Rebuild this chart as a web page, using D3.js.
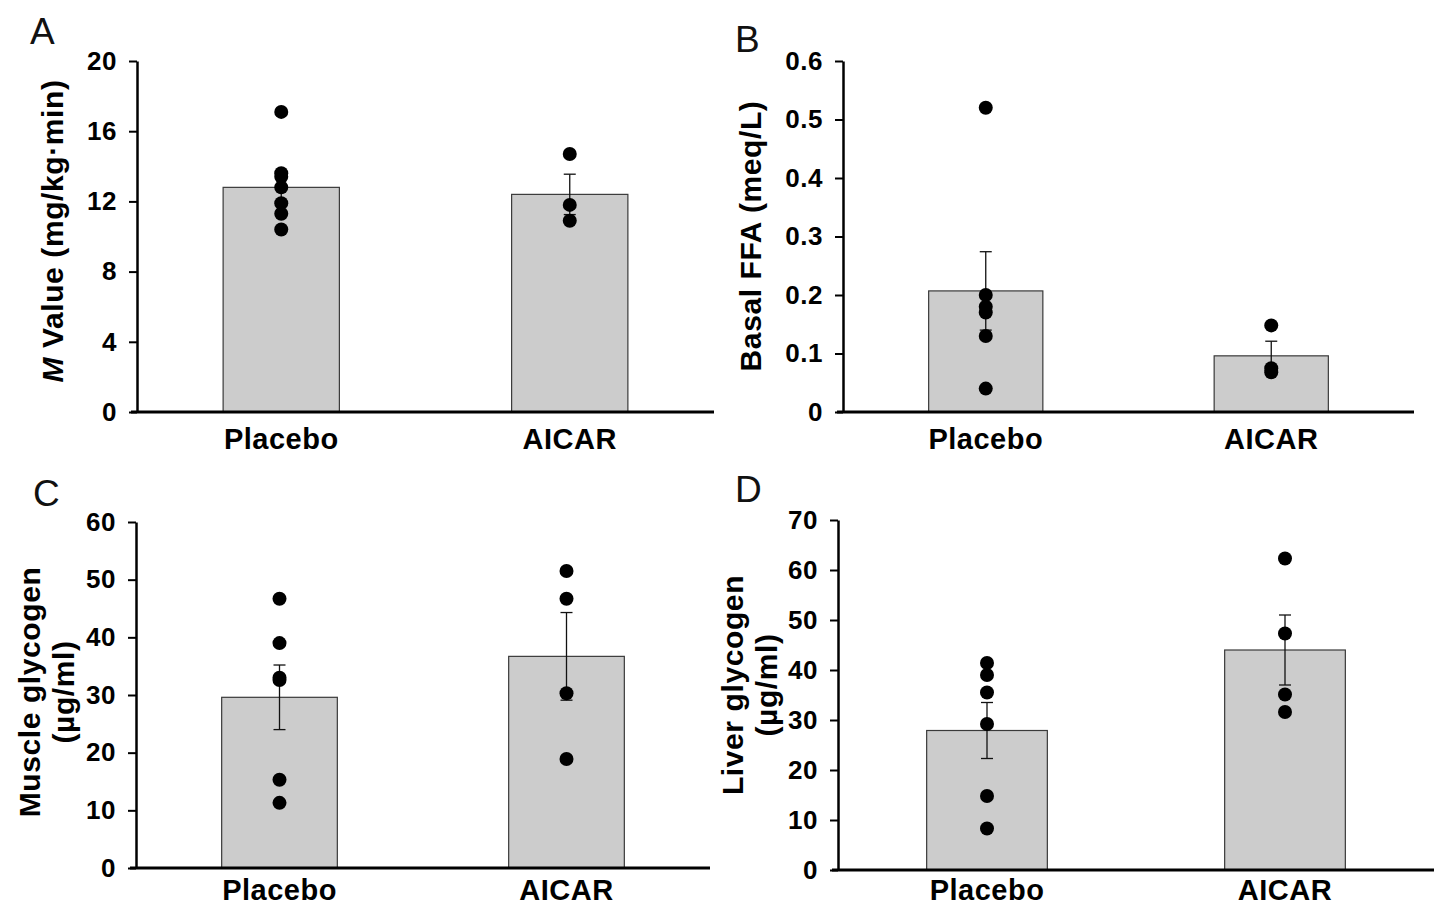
<!DOCTYPE html>
<html>
<head>
<meta charset="utf-8">
<script src="https://cdn.jsdelivr.net/npm/d3@7"></script>
<style>
  body { margin: 0; background: #fff; }
  svg { display: block; }
  .tick text { font-family: "Liberation Sans", Arial, sans-serif; font-weight: bold; font-size: 26px; letter-spacing: 0.5px; fill: #000; }
  .cat { font-family: "Liberation Sans", Arial, sans-serif; font-weight: bold; font-size: 29px !important; letter-spacing: 1.2px; fill: #000; }
  .ytitle { font-family: "Liberation Sans", Arial, sans-serif; font-weight: bold; font-size: 30px; letter-spacing: 0.6px; fill: #000; }
  .letter { font-family: "Liberation Sans", Arial, sans-serif; font-size: 37px; fill: #111; }
</style>
</head>
<body>
<script>
// groups on the x axis
const groups = ["Placebo", "AICAR"];

// A: M value (mg/kg·min)
const mValueMean = [12.8, 12.4];
const mValueSem = [0.8, 1.15];
const mValuePlacebo = [17.1, 13.6, 13.4, 12.8, 11.9, 11.3, 10.4];
const mValueAicar = [14.7, 11.8, 10.9];
const mValueTicks = [0, 4, 8, 12, 16, 20];

// B: basal FFA (meq/L)
const ffaMean = [0.207, 0.096];
const ffaSem = [0.067, 0.025];
const ffaPlacebo = [0.52, 0.20, 0.18, 0.17, 0.13, 0.04];
const ffaAicar = [0.148, 0.075, 0.068];
const ffaTicks = [0, 0.1, 0.2, 0.3, 0.4, 0.5, 0.6];

// C: muscle glycogen (µg/ml)
const muscleMean = [29.6, 36.7];
const muscleSem = [5.6, 7.6];
const musclePlacebo = [46.7, 39.0, 33.0, 32.6, 15.3, 11.3];
const muscleAicar = [51.5, 46.7, 30.3, 18.9];
const muscleTicks = [0, 10, 20, 30, 40, 50, 60];

// D: liver glycogen (µg/ml)
const liverMean = [27.9, 44.0];
const liverSem = [5.6, 7.0];
const liverPlacebo = [41.4, 39.0, 35.5, 29.2, 14.8, 8.3];
const liverAicar = [62.3, 47.3, 35.1, 31.6];
const liverTicks = [0, 10, 20, 30, 40, 50, 60, 70];

const svg = d3.select("body").append("svg")
    .attr("width", 1448)
    .attr("height", 910);

// one bar panel with dots and SEM bars
function drawPanel(p) {
    const g = svg.append("g");

    const y = d3.scaleLinear()
        .domain([0, d3.max(p.ticks)])
        .range([p.bottom, p.top]);

    const x = d3.scaleBand()
        .domain(groups)
        .range([p.left, p.right])
        .paddingInner(p.pad)
        .paddingOuter(p.pad / 2);

    // bars
    g.selectAll("rect.bar")
        .data(groups)
        .join("rect")
        .attr("class", "bar")
        .attr("x", d => x(d))
        .attr("width", x.bandwidth())
        .attr("y", (d, i) => y(p.mean[i]))
        .attr("height", (d, i) => y(0) - y(p.mean[i]))
        .attr("fill", "#cccccc")
        .attr("stroke", "#3a3a3a")
        .attr("stroke-width", 1.2);

    // SEM bars
    const errs = groups.map((d, i) => ({
        cx: x(d) + x.bandwidth() / 2,
        lo: p.mean[i] - p.sem[i],
        hi: p.mean[i] + p.sem[i]
    }));
    const eb = g.selectAll("g.err").data(errs).join("g").attr("class", "err")
        .attr("stroke", "#111").attr("stroke-width", 1.3);
    eb.append("line")
        .attr("x1", d => d.cx).attr("x2", d => d.cx)
        .attr("y1", d => y(d.lo)).attr("y2", d => y(d.hi));
    eb.append("line")
        .attr("x1", d => d.cx - 6).attr("x2", d => d.cx + 6)
        .attr("y1", d => y(d.hi)).attr("y2", d => y(d.hi));
    eb.append("line")
        .attr("x1", d => d.cx - 6).attr("x2", d => d.cx + 6)
        .attr("y1", d => y(d.lo)).attr("y2", d => y(d.lo));

    // individual points
    const pts = [];
    groups.forEach((grp, i) => {
        p.points[i].forEach(v => pts.push({ grp, v }));
    });
    g.selectAll("circle.pt")
        .data(pts)
        .join("circle")
        .attr("class", "pt")
        .attr("cx", d => x(d.grp) + x.bandwidth() / 2)
        .attr("cy", d => y(d.v))
        .attr("r", 7)
        .attr("fill", "#000");

    // y axis
    const yAxis = g.append("g")
        .attr("transform", `translate(${p.left},0)`)
        .call(d3.axisLeft(y)
            .tickValues(p.ticks)
            .tickSize(8)
            .tickSizeOuter(0)
            .tickPadding(12)
            .tickFormat(p.fmt));
    yAxis.attr("font-size", null).attr("font-family", null);
    yAxis.select(".domain").attr("stroke", "#000").attr("stroke-width", 2.5);
    yAxis.selectAll(".tick line").attr("stroke", "#000").attr("stroke-width", 2);

    // x axis
    const xAxis = g.append("g")
        .attr("transform", `translate(0,${p.bottom})`)
        .call(d3.axisBottom(x).tickSize(0).tickPadding(p.catPad));
    xAxis.attr("font-size", null).attr("font-family", null);
    xAxis.select(".domain").remove();
    xAxis.selectAll(".tick text").attr("class", "cat");
    g.append("line")
        .attr("x1", p.left - 6).attr("x2", p.right)
        .attr("y1", p.bottom).attr("y2", p.bottom)
        .attr("stroke", "#000").attr("stroke-width", 3);

    // y title
    const t = g.append("text")
        .attr("class", "ytitle")
        .attr("text-anchor", "middle")
        .attr("transform", `translate(${p.titleX},${p.titleY}) rotate(-90)`);
    p.title.forEach((line, k) => {
        const ts = t.append("tspan")
            .attr("x", 0)
            .attr("dy", k === 0 ? 0 : 34);
        line.forEach(part => {
            ts.append("tspan")
                .attr("font-style", part.italic ? "italic" : null)
                .text(part.text);
        });
    });

    // panel letter
    g.append("text")
        .attr("class", "letter")
        .attr("x", p.letterX)
        .attr("y", p.letterY)
        .text(p.letter);
}

const plain = d => d3.format("")(d);

drawPanel({
    letter: "A", letterX: 30, letterY: 44,
    left: 137, right: 714, top: 61, bottom: 412, pad: 0.597, catPad: 16,
    ticks: mValueTicks, fmt: plain,
    mean: mValueMean, sem: mValueSem, points: [mValuePlacebo, mValueAicar],
    title: [[{ text: "M", italic: true }, { text: " Value (mg/kg·min)" }]],
    titleX: 63, titleY: 231
});

drawPanel({
    letter: "B", letterX: 735, letterY: 52,
    left: 843, right: 1414, top: 61, bottom: 412, pad: 0.6, catPad: 16,
    ticks: ffaTicks, fmt: d => d === 0 ? "0" : d3.format(".1f")(d),
    mean: ffaMean, sem: ffaSem, points: [ffaPlacebo, ffaAicar],
    title: [[{ text: "Basal FFA (meq/L)" }]],
    titleX: 761, titleY: 236
});

drawPanel({
    letter: "C", letterX: 33, letterY: 506,
    left: 136, right: 710, top: 522, bottom: 868, pad: 0.597, catPad: 11,
    ticks: muscleTicks, fmt: plain,
    mean: muscleMean, sem: muscleSem, points: [musclePlacebo, muscleAicar],
    title: [[{ text: "Muscle glycogen" }], [{ text: "(µg/ml)" }]],
    titleX: 40, titleY: 692
});

drawPanel({
    letter: "D", letterX: 735, letterY: 502,
    left: 838, right: 1434, top: 520, bottom: 870, pad: 0.595, catPad: 9,
    ticks: liverTicks, fmt: plain,
    mean: liverMean, sem: liverSem, points: [liverPlacebo, liverAicar],
    title: [[{ text: "Liver glycogen" }], [{ text: "(µg/ml)" }]],
    titleX: 743, titleY: 685
});
</script>
</body>
</html>
